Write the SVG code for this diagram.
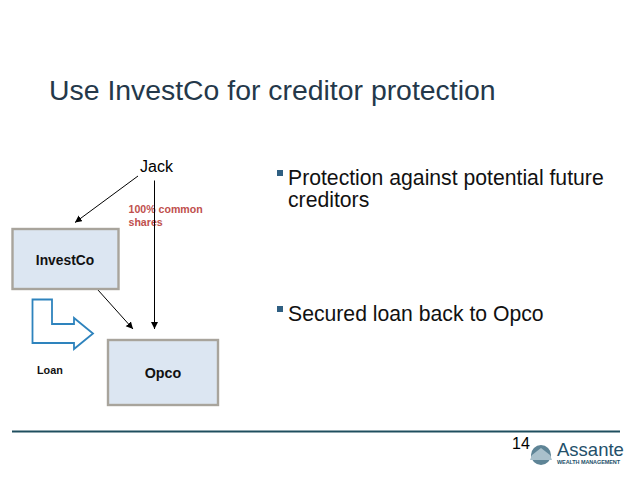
<svg xmlns="http://www.w3.org/2000/svg" width="638" height="479" viewBox="0 0 638 479">
<style>
text{font-family:"Liberation Sans",Arial,sans-serif;fill:#000}
.b{font-size:21.200px;fill:#111}
.n{font-size:14.300px;font-weight:bold;text-anchor:middle;fill:#111}
.box{fill:#dce6f2;stroke:#a8a49c;stroke-width:2.400}
.c{fill:none;stroke:#000;stroke-width:1}
.bul{fill:#2f5f82}
.r{font-size:10.600px;font-weight:bold;fill:#c0504d}
</style>
<defs><marker id="a" markerWidth="8" markerHeight="8" refX="7" refY="3.500" orient="auto" markerUnits="userSpaceOnUse"><path d="M0 0L7 3.500L0 7z" fill="#000"/></marker></defs>
<rect width="638" height="479" fill="#fff"/>
<text x="49" y="100" font-size="28.400" style="fill:#24384a">Use InvestCo for creditor protection</text>
<g id="jack"><text x="140" y="172" font-size="16">Jack</text></g>
<text class="r" x="128.500" y="213">100% common</text>
<text class="r" x="128.500" y="226">shares</text>
<g id="connectors">
<path class="c" d="M138 176L75 222.500" marker-end="url(#a)"/>
<path class="c" d="M154.500 180.500V329" marker-end="url(#a)"/>
<path class="c" d="M98 290L133 329" marker-end="url(#a)"/>
</g>
<g id="investco"><rect class="box" x="12.500" y="229" width="106" height="60"/><text class="n" x="65" y="265" style="font-size:13.800px">InvestCo</text></g>
<g id="opco"><rect class="box" x="108" y="340" width="110" height="65"/><text class="n" x="163" y="378">Opco</text></g>
<g id="loan-arrow"><path d="M32.500 299.500H52V324H74V318L93 333.500L74 349V343H32.500z" fill="#fff" stroke="#2e83bd" stroke-width="1.800"/></g>
<g id="loan"><text x="37" y="374" font-size="10.800" font-weight="bold" style="fill:#111">Loan</text></g>
<g id="bullets">
<rect class="bul" x="277" y="170" width="6" height="6"/>
<text class="b" x="288" y="185">Protection against potential future</text>
<text class="b" x="288" y="207">creditors</text>
<rect class="bul" x="277" y="306" width="6" height="6"/>
<text class="b" x="288" y="321">Secured loan back to Opco</text>
</g>
<path d="M12 431.500H620" stroke="#1f4e5f" stroke-width="1.800" fill="none"/>
<text x="512" y="448.500" font-size="16">14</text>
<g id="logo">
<circle cx="541" cy="455" r="10" fill="#5e8496"/>
<path d="M532 455L541 448L550 455L552 460H530z" fill="#a9c0cb"/>
<text x="557" y="456" font-size="18.500" style="fill:#24506a">Assante</text>
<text x="557" y="464" font-size="5.500" font-weight="bold" textLength="63" style="fill:#24506a">WEALTH MANAGEMENT</text>
</g>
</svg>
